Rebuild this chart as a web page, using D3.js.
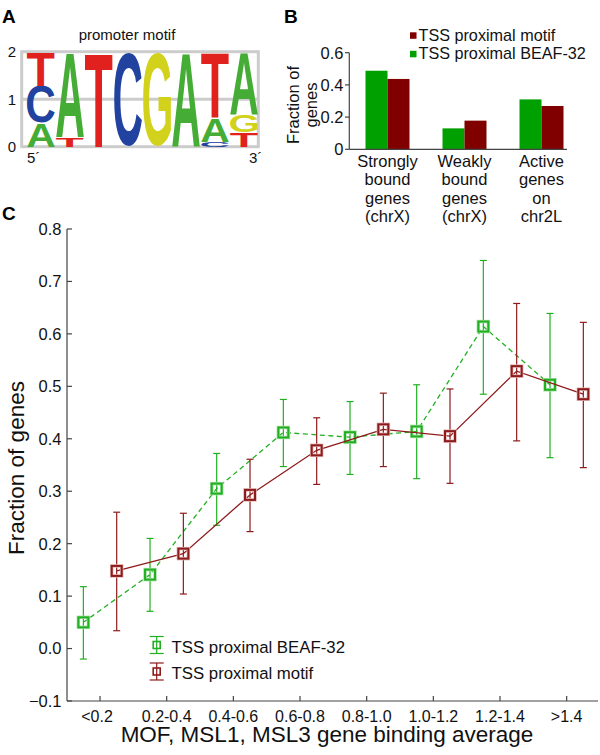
<!DOCTYPE html>
<html><head><meta charset="utf-8">
<script src="https://cdn.jsdelivr.net/npm/d3@7"></script>
<style>
html,body{margin:0;padding:0;background:#fff;}
svg{display:block;font-family:"Liberation Sans",Arial,Helvetica,sans-serif;}
</style></head>
<body>
<svg id="chart" width="600" height="755"></svg>
<script>
// ---------------- DATA ----------------
// Panel A: sequence logo (bits), letters stacked bottom -> top
const logoLetters = [["A","C","T"],["T","A"],["T"],["C"],["G"],["A"],["C","A","T"],["T","G","A"]];
const logoHeights = [[0.5,0.77,0.7],[0.2,1.77],[1.97],[1.97],[1.97],[1.97],[0.1,0.5,1.37],[0.3,0.37,1.3]];
const logoTicks = [0,1,2];
const letterColors = {A:"#45ad35",C:"#2242a0",G:"#d2d21c",T:"#e0211d"};

// Panel B: grouped bars
const bCategories = ["Strongly bound genes (chrX)","Weakly bound genes (chrX)","Active genes on chr2L"];
const bCategoryLines = [["Strongly","bound","genes","(chrX)"],["Weakly","bound","genes","(chrX)"],["Active","genes","on","chr2L"]];
const bSeries = ["TSS proximal BEAF-32","TSS proximal motif"];
const bBeaf = [0.488,0.13,0.31];
const bMotif = [0.437,0.178,0.269];
const bTicks = [0,0.2,0.4,0.6];

// Panel C: fraction of genes vs binding average
const cCategories = ["<0.2","0.2-0.4","0.4-0.6","0.6-0.8","0.8-1.0","1.0-1.2","1.2-1.4",">1.4"];
const beafMean = [0.050,0.141,0.305,0.412,0.403,0.414,0.614,0.503];
const beafLow  = [-0.020,0.071,0.235,0.347,0.332,0.324,0.485,0.364];
const beafHigh = [0.118,0.210,0.372,0.475,0.471,0.503,0.740,0.639];
const motifMean = [0.148,0.181,0.293,0.378,0.418,0.405,0.529,0.485];
const motifLow  = [0.034,0.104,0.223,0.313,0.347,0.315,0.396,0.345];
const motifHigh = [0.260,0.258,0.361,0.440,0.487,0.495,0.658,0.622];
const cTicks = [-0.1,0,0.1,0.2,0.3,0.4,0.5,0.6,0.7,0.8];
const cSeries = ["TSS proximal BEAF-32","TSS proximal motif"];

// ---------------- DRAW ----------------
const svg = d3.select("#chart");
const FONT = '"Liberation Sans",Arial,Helvetica,sans-serif';
const AXIS = "#444";

// Panel labels
[["A",2,23],["B",284,23],["C",2,220]].forEach(([t,x,y])=>{
  svg.append("text").attr("x",x).attr("y",y).attr("font-size",19).attr("font-weight","bold").attr("fill","#000").text(t);
});

// ===== Panel A =====
(function(){
  const g = svg.append("g");
  const y = d3.scaleLinear().domain([0,2]).range([146.7,51.7]);
  const x = d3.scaleBand().domain(d3.range(logoLetters.length)).range([27,258]).paddingInner(0.04);
  // frame
  g.append("rect").attr("x",21.7).attr("y",y(2)).attr("width",258.3-21.7).attr("height",y(0)-y(2))
    .attr("fill","none").attr("stroke","#cccccc").attr("stroke-width",3);
  g.append("line").attr("x1",21.7).attr("x2",258.3).attr("y1",y(1)).attr("y2",y(1)).attr("stroke","#cccccc").attr("stroke-width",3);
  // ticks
  g.selectAll("text.yt").data(logoTicks).join("text").attr("class","yt")
    .attr("x",12).attr("y",d=>y(d)).attr("dy","0.36em").attr("text-anchor","middle")
    .attr("font-size",15).attr("fill","#111").text(d=>d);
  g.append("text").attr("x",127).attr("y",40).attr("text-anchor","middle").attr("font-size",15).attr("fill","#111").text("promoter motif");
  g.append("text").attr("x",27).attr("y",163).attr("font-size",15).attr("fill","#111").text("5\u00B4");
  g.append("text").attr("x",249).attr("y",163).attr("font-size",15).attr("fill","#111").text("3\u00B4");
  // letter metrics from canvas
  const ctx = document.createElement("canvas").getContext("2d");
  ctx.font = "bold 100px " + FONT;
  const metrics = {};
  ["A","C","G","T"].forEach(l=>{
    const m = ctx.measureText(l);
    let L = m.actualBoundingBoxLeft, R = m.actualBoundingBoxRight, A = m.actualBoundingBoxAscent, D = m.actualBoundingBoxDescent;
    if(!(R>0) || !(A>0)){ L=0; R=m.width||70; A=72; D=0; }
    metrics[l] = {L,R,A,D};
  });
  logoLetters.forEach((letters,i)=>{
    let base = 0;
    letters.forEach((l,j)=>{
      const h = logoHeights[i][j];
      const top = y(base+h), bottom = y(base);
      const m = metrics[l];
      const w = x.bandwidth();
      const sx = w/(m.L+m.R), sy = (bottom-top)/(m.A+m.D);
      g.append("text")
        .attr("transform",`translate(${x(i)},${top}) scale(${sx},${sy})`)
        .attr("x",m.L).attr("y",m.A)
        .attr("font-size",100).attr("font-weight","bold").attr("fill",letterColors[l]).text(l);
      base += h;
    });
  });
})();

// ===== Panel B =====
(function(){
  const g = svg.append("g");
  const y = d3.scaleLinear().domain([0,0.6]).range([149.3,52.7]);
  const x = d3.scaleBand().domain(bCategories).range([349,580]);
  const xi = d3.scaleBand().domain(bSeries).range([-22,22]);
  const colors = {"TSS proximal BEAF-32":"#00a000","TSS proximal motif":"#800000"};
  const rows = bCategories.map((c,i)=>({c, vals:[{s:bSeries[0],v:bBeaf[i]},{s:bSeries[1],v:bMotif[i]}]}));
  rows.forEach(r=>{
    const cx = x(r.c)+x.bandwidth()/2;
    g.selectAll(null).data(r.vals).join("rect")
      .attr("x",d=>cx+xi(d.s)).attr("width",xi.bandwidth())
      .attr("y",d=>y(d.v)).attr("height",d=>y(0)-y(d.v))
      .attr("fill",d=>colors[d.s]);
  });
  // axes
  g.append("line").attr("x1",349.3).attr("x2",349.3).attr("y1",y(0.6)).attr("y2",y(0)).attr("stroke",AXIS).attr("stroke-width",1.2);
  g.append("line").attr("x1",349.3).attr("x2",567).attr("y1",y(0)).attr("y2",y(0)).attr("stroke",AXIS).attr("stroke-width",1.2);
  g.selectAll("line.t").data(bTicks).join("line").attr("class","t")
    .attr("x1",345).attr("x2",349.3).attr("y1",d=>y(d)).attr("y2",d=>y(d)).attr("stroke",AXIS).attr("stroke-width",1.2);
  g.selectAll("text.t").data(bTicks).join("text").attr("class","t")
    .attr("x",343.5).attr("y",d=>y(d)).attr("dy","0.36em").attr("text-anchor","end")
    .attr("font-size",16.5).attr("fill","#111").text(d=>d===0?"0":d3.format(".1f")(d));
  // category labels
  bCategories.forEach((c,i)=>{
    const cx = x(c)+x.bandwidth()/2;
    bCategoryLines[i].forEach((ln,k)=>{
      g.append("text").attr("x",cx).attr("y",166.7+k*18.5).attr("text-anchor","middle")
        .attr("font-size",16.5).attr("fill","#111").text(ln);
    });
  });
  // y label
  g.append("text").attr("transform","translate(298.5,105) rotate(-90)").attr("text-anchor","middle")
    .attr("font-size",16.5).attr("fill","#111").text("Fraction of");
  g.append("text").attr("transform","translate(316.5,105) rotate(-90)").attr("text-anchor","middle")
    .attr("font-size",16.5).attr("fill","#111").text("genes");
  // legend
  const leg = [{s:bSeries[1],y:35.3},{s:bSeries[0],y:53.8}];
  leg.forEach(d=>{
    g.append("rect").attr("x",410).attr("y",d.y-3).attr("width",6.5).attr("height",6.5).attr("fill",colors[d.s]);
    g.append("text").attr("x",418.5).attr("y",d.y+5.5).attr("font-size",16.2).attr("fill","#111").text(d.s);
  });
})();

// ===== Panel C =====
(function(){
  const g = svg.append("g");
  const y = d3.scaleLinear().domain([-0.1,0.8]).range([701,229]);
  const x = d3.scaleBand().domain(cCategories).range([66.7,600]);
  const xi = d3.scaleBand().domain(cSeries).range([0,x.bandwidth()]);
  const green = "#22b022", red = "#8e1b1b";
  const series = [
    {name:cSeries[0], mean:beafMean, lo:beafLow, hi:beafHigh, color:green, halo:"#a8e0a8", dash:"5,3.5"},
    {name:cSeries[1], mean:motifMean, lo:motifLow, hi:motifHigh, color:red, halo:"#e2b6b6", dash:null}
  ];
  // axes
  g.append("line").attr("x1",67).attr("x2",67).attr("y1",y(0.8)).attr("y2",y(-0.1)).attr("stroke",AXIS).attr("stroke-width",1.2);
  g.append("line").attr("x1",67).attr("x2",598).attr("y1",y(-0.1)).attr("y2",y(-0.1)).attr("stroke",AXIS).attr("stroke-width",1.2);
  g.selectAll("line.yt").data(cTicks).join("line").attr("class","yt")
    .attr("x1",67).attr("x2",72).attr("y1",d=>y(d)).attr("y2",d=>y(d)).attr("stroke",AXIS).attr("stroke-width",1.2);
  g.selectAll("text.yt").data(cTicks).join("text").attr("class","yt")
    .attr("x",61.5).attr("y",d=>y(d)).attr("dy","0.36em").attr("text-anchor","end")
    .attr("font-size",16.5).attr("fill","#111").text(d=>d3.format(".1f")(d));
  g.selectAll("line.xt").data(cCategories).join("line").attr("class","xt")
    .attr("x1",d=>x(d)+x.bandwidth()/2).attr("x2",d=>x(d)+x.bandwidth()/2)
    .attr("y1",y(-0.1)).attr("y2",y(-0.1)-5).attr("stroke",AXIS).attr("stroke-width",1.2);
  g.selectAll("text.xt").data(cCategories).join("text").attr("class","xt")
    .attr("x",(d,i)=>x(d)+x.bandwidth()/2-(i===0?3:0)).attr("y",722).attr("text-anchor","middle")
    .attr("font-size",16).attr("fill","#111").text(d=>d);
  // titles
  g.append("text").attr("x",327).attr("y",742).attr("text-anchor","middle").attr("font-size",22.5).attr("fill","#111")
    .text("MOF, MSL1, MSL3 gene binding average");
  g.append("text").attr("transform","translate(24,468) rotate(-90)").attr("text-anchor","middle").attr("font-size",22.5).attr("fill","#111")
    .text("Fraction of genes");
  // series
  series.forEach(s=>{
    const pts = cCategories.map((c,i)=>({x:x(c)+xi(s.name)+xi.bandwidth()/2, m:s.mean[i], lo:s.lo[i], hi:s.hi[i]}));
    const line = d3.line().x(d=>d.x).y(d=>y(d.m));
    g.append("path").attr("d",line(pts)).attr("fill","none").attr("stroke",s.color).attr("stroke-width",1.3)
      .attr("stroke-dasharray",s.dash);
    const eg = g.append("g").attr("stroke",s.color).attr("stroke-width",1.2);
    eg.selectAll("line.v").data(pts).join("line").attr("class","v")
      .attr("x1",d=>d.x).attr("x2",d=>d.x).attr("y1",d=>y(d.lo)).attr("y2",d=>y(d.hi));
    eg.selectAll("line.c1").data(pts).join("line").attr("class","c1")
      .attr("x1",d=>d.x-3.5).attr("x2",d=>d.x+3.5).attr("y1",d=>y(d.lo)).attr("y2",d=>y(d.lo));
    eg.selectAll("line.c2").data(pts).join("line").attr("class","c2")
      .attr("x1",d=>d.x-3.5).attr("x2",d=>d.x+3.5).attr("y1",d=>y(d.hi)).attr("y2",d=>y(d.hi));
    g.selectAll(null).data(pts).join("rect")
      .attr("x",d=>d.x-5).attr("y",d=>y(d.m)-5).attr("width",10).attr("height",10)
      .attr("fill","none").attr("stroke",s.halo).attr("stroke-width",3.5);
    g.selectAll(null).data(pts).join("rect")
      .attr("x",d=>d.x-5).attr("y",d=>y(d.m)-5).attr("width",10).attr("height",10)
      .attr("fill","none").attr("stroke",s.color).attr("stroke-width",2);
  });
  // legend
  const legY = [645, 671.5];
  series.forEach((s,i)=>{
    const cy = legY[i], cx = 156.7;
    const lg = g.append("g").attr("stroke",s.color).attr("stroke-width",1.2);
    lg.append("line").attr("x1",cx).attr("x2",cx).attr("y1",cy-8.5).attr("y2",cy+8.5);
    lg.append("line").attr("x1",cx-7).attr("x2",cx+7).attr("y1",cy-8.5).attr("y2",cy-8.5);
    lg.append("line").attr("x1",cx-7).attr("x2",cx+7).attr("y1",cy+8.5).attr("y2",cy+8.5);
    g.append("rect").attr("x",cx-3.5).attr("y",cy-3.5).attr("width",7).attr("height",7)
      .attr("fill","none").attr("stroke",s.color).attr("stroke-width",1.6);
    g.append("text").attr("x",171.5).attr("y",cy+7.5).attr("font-size",16.8).attr("fill","#111").text(s.name);
  });
})();
</script>
</body></html>
